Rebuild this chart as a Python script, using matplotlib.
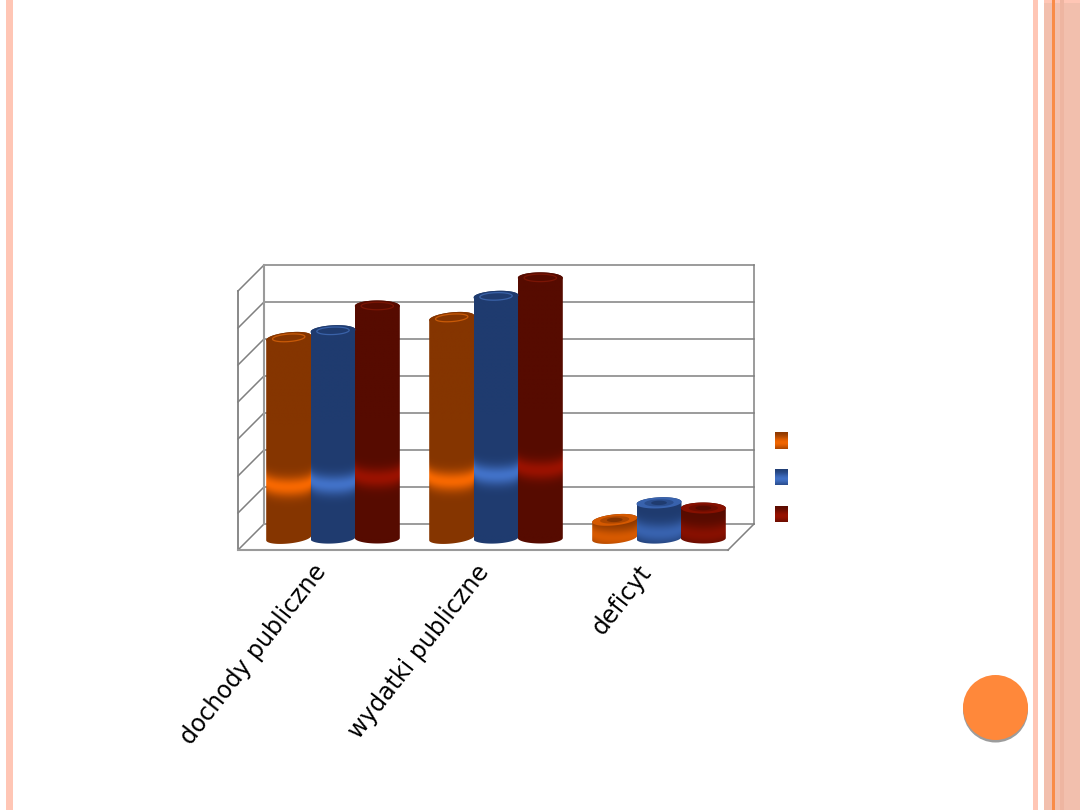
#!/usr/bin/env python3
"""Cylinder bar chart on a slide: public revenue, spending and deficit."""
import matplotlib
matplotlib.use("Agg")
import matplotlib.pyplot as plt
import matplotlib.patches as mpatches
from matplotlib.patches import Polygon
from matplotlib.transforms import ScaledTranslation
import numpy as np

# ── Data (one grid step = 1 unit) ──
categories = ["dochody publiczne", "wydatki publiczne", "deficyt"]
series_a = [5.41, 5.95, 0.49]
series_b = [5.60, 6.53, 0.95]
series_c = [6.27, 7.03, 0.81]
grid_values = [0, 1, 2, 3, 4, 5, 6, 7]

# ── Colours ──
C_SIDE = ["#853500", "#1F3B6F", "#560B00"]
C_BAND = ["#F76800", "#4272C8", "#9A1200"]
C_RING = ["#C85A08", "#3A62A8", "#7A1505"]
C_GRID = "#808080"
C_STRIP = "#FFC6B5"
C_RIGHT = "#F2BFAD"
C_LINE = "#F98B47"
C_DOT = "#FF883A"

PX_X = 163.0   # px per category
PX_Y = 37.0    # px per value unit
BAR_W = 45 / PX_X
BAR_STEP = 44.3 / PX_X
RY = 5.5 / PX_Y
BAND_POS = 0.28
BAND_SIG = 7.0 / PX_Y
TILT = [0.10, 0.05, 0.0]
FRONT = 12 / PX_Y   # floor front edge below value 0
BACK = 14 / PX_Y    # floor back edge above value 0
SKEW = 26 / PX_X    # depth of the box, horizontally


def hex_rgb(c):
    return np.array(matplotlib.colors.to_rgb(c))


def ellipse_pts(cx, v, rx, ry, tilt, t0=0, t1=2 * np.pi, n=60):
    t = np.linspace(t0, t1, n)
    u = np.cos(t)
    return np.column_stack([cx + rx * u,
                            v + ry * np.sin(t) + tilt * u * rx * PX_X / PX_Y])


def cylinder(ax, cx, val, idx):
    rx = BAR_W / 2
    tilt = TILT[idx]
    # outline: bottom arc, then top arc back over the far side
    low = ellipse_pts(cx, 0, rx, RY, tilt, np.pi, 2 * np.pi)
    high = ellipse_pts(cx, val, rx, RY, tilt, 0, np.pi)
    clip = Polygon(np.vstack([low, high]), closed=True,
                   transform=ax.transData, fc="none", ec="none")
    ax.add_patch(clip)

    xs = np.linspace(cx - rx, cx + rx, 50)
    vs = np.linspace(-2 * RY, val + 2 * RY, max(int(val * PX_Y), 40) + 8)
    X, V = np.meshgrid(xs, vs)
    U = (X - cx) / rx
    drop = RY * np.sqrt(np.clip(1 - U ** 2, 0, 1))
    g = np.exp(-0.5 * ((V - BAND_POS * val + drop) / BAND_SIG) ** 2)
    if val < 1.5:
        g = g * 0.72   # short bars never reach the full highlight
    rgb = hex_rgb(C_SIDE[idx]) * (1 - g[..., None]) + hex_rgb(C_BAND[idx]) * g[..., None]
    im = ax.imshow(rgb, extent=(xs[0], xs[-1], vs[0], vs[-1]), origin="lower",
                   aspect="auto", interpolation="bilinear", zorder=3)
    im.set_clip_path(clip)

    # top face
    pts = ellipse_pts(cx, val, rx, RY, tilt)
    if val < 1.5:
        # short rings: bright rim, dark hole
        rim = 0.7 * hex_rgb(C_BAND[idx]) + 0.3 * hex_rgb(C_SIDE[idx])
        ax.add_patch(Polygon(pts, fc=rim, ec="none", zorder=4))
        mid = 0.5 * rim + 0.5 * hex_rgb(C_SIDE[idx])
        ax.add_patch(Polygon(ellipse_pts(cx, val, rx * 0.65, RY * 0.65, tilt * 0.65),
                             fc=mid, ec="none", zorder=4))
        ax.add_patch(Polygon(ellipse_pts(cx, val, rx * 0.35, RY * 0.4, tilt * 0.35),
                             fc=C_SIDE[idx], ec="none", zorder=4))
    else:
        ax.add_patch(Polygon(pts, fc=C_SIDE[idx], ec="none", zorder=4))
        ax.add_patch(Polygon(ellipse_pts(cx, val, rx * 0.72, RY * 0.68, tilt * 0.72),
                             fc="none", ec=C_RING[idx], lw=0.9, zorder=4))


fig = plt.figure(figsize=(10.8, 8.1), dpi=100, facecolor="white")

# ── Slide decoration, in pixels ──
bg = fig.add_axes([0, 0, 1, 1])
bg.set_xlim(0, 1080)
bg.set_ylim(810, 0)
bg.axis("off")
bg.add_patch(mpatches.Rectangle((6, 0), 7, 810, fc=C_STRIP, ec="none"))
bg.add_patch(mpatches.Rectangle((1033, 0), 5, 810, fc=C_STRIP, ec="none"))
bg.add_patch(mpatches.Rectangle((1044, 0), 36, 810, fc=C_RIGHT, ec="none"))
bg.add_patch(mpatches.Rectangle((1044, 0), 36, 3, fc=C_STRIP, ec="none"))
bg.add_patch(mpatches.Rectangle((1060, 0), 4, 810, fc="#EEB5A1", ec="none"))
bg.add_patch(mpatches.Rectangle((1052, 0), 2.5, 810, fc=C_LINE, ec="none"))
bg.add_patch(mpatches.Circle((995.5, 710), 32.5, fc="#9C9C9C", ec="none"))
bg.add_patch(mpatches.Circle((995.5, 707.5), 32.5, fc=C_DOT, ec="none"))

# legend swatches (the series names are not visible on the slide)
for y0, y1, i in [(432, 449, 0), (469, 485, 1), (506, 522, 2)]:
    t = np.linspace(0, 1, 16)
    ramp = np.exp(-0.5 * ((t - 0.62) / 0.28) ** 2)[:, None, None] * 0.95
    col = hex_rgb(C_SIDE[i]) * (1 - ramp) + hex_rgb(C_BAND[i]) * ramp
    bg.imshow(col, extent=(775, 788, y1, y0), aspect="auto", zorder=2)
bg.set_xlim(0, 1080)
bg.set_ylim(810, 0)

# ── Chart axes: value 0 sits 538 px down, first category at 333 px ──
L, R, T, B = 238, 754, 266, 550
ax = fig.add_axes([L / 1080, 1 - B / 810, (R - L) / 1080, (B - T) / 810])
ax.patch.set_alpha(0)
for s in ax.spines.values():
    s.set_visible(False)
ax.yaxis.set_visible(False)

x0, x1 = (L - 333) / PX_X, (R - 333) / PX_X

# back wall, side wall, floor
for v in grid_values:
    ax.plot([x0 + SKEW, x1], [v + BACK, v + BACK], color=C_GRID, lw=1.1, zorder=1, clip_on=False)
    ax.plot([x0, x0 + SKEW], [v - FRONT, v + BACK], color=C_GRID, lw=1.1, zorder=1, clip_on=False)
top_b = grid_values[-1] + BACK
top_f = grid_values[-1] - FRONT
ax.plot([x0, x0], [-FRONT, top_f], color=C_GRID, lw=1.3, zorder=1, clip_on=False)
ax.plot([x0 + SKEW, x0 + SKEW], [BACK, top_b], color="#9A9A9A", lw=1.5, zorder=1, clip_on=False)
ax.plot([x1, x1], [BACK, top_b], color=C_GRID, lw=1.1, zorder=1, clip_on=False)
ax.plot([x0, x1 - SKEW], [-FRONT, -FRONT], color="#9A9A9A", lw=1.5, zorder=1, clip_on=False)
ax.plot([x1 - SKEW, x1], [-FRONT, BACK], color=C_GRID, lw=1.1, zorder=1, clip_on=False)

# ── Cylinders ──
for i, vals in enumerate([series_a, series_b, series_c]):
    for c in range(len(categories)):
        cylinder(ax, c + (i - 1) * BAR_STEP, vals[c], i)

ax.set_xlim(x0, x1)
ax.set_ylim(-FRONT, (538 - T) / PX_Y)
ax.set_xticks(range(len(categories)))
ax.set_xticklabels(categories, rotation=52, ha="right", va="top",
                   rotation_mode="anchor", fontsize=17, color="black")
ax.tick_params(axis="x", length=0, pad=6)
# labels end left of the category centre
shift = ScaledTranslation(-21 / 100, -2 / 100, fig.dpi_scale_trans)
for lab in ax.get_xticklabels():
    lab.set_transform(lab.get_transform() + shift)

plt.savefig("out.png", dpi=100, facecolor="white")
plt.close()
